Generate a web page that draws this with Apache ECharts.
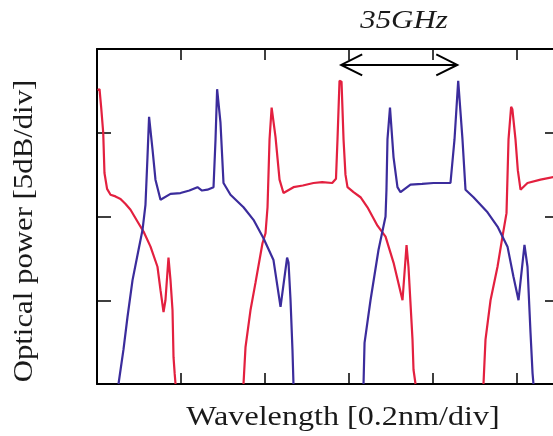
<!DOCTYPE html>
<html><head><meta charset="utf-8">
<script src="https://cdn.jsdelivr.net/npm/echarts@6/dist/echarts.min.js"></script>
<style>html,body{margin:0;padding:0;background:#fff}#c{width:553px;height:436px}</style>
</head><body><div id="c"></div>
<script>
// x in divisions (0.2 nm/div), y in divisions (5 dB/div)
const redSeg1 = [[0.006,3.51],[0.03,3.52],[0.05,3.30],[0.074,3.00],[0.089,2.52],[0.12,2.33],[0.161,2.26],[0.22,2.24],[0.28,2.21],[0.34,2.15],[0.399,2.08],[0.494,1.92],[0.554,1.82],[0.637,1.64],[0.72,1.40],[0.756,1.12],[0.792,0.86],[0.815,1.00],[0.851,1.51],[0.875,1.24],[0.899,0.88],[0.911,0.32],[0.925,0.12],[0.935,0.0]];
const redSeg2 = [[1.744,0.0],[1.768,0.44],[1.827,0.88],[1.887,1.21],[1.97,1.68],[2.006,1.80],[2.03,2.11],[2.054,2.92],[2.079,3.30],[2.095,3.28],[2.125,2.95],[2.173,2.44],[2.22,2.28],[2.339,2.35],[2.45,2.37],[2.577,2.40],[2.68,2.41],[2.80,2.40],[2.845,2.45],[2.863,2.92],[2.887,3.62],[2.911,3.61],[2.935,2.92],[2.958,2.50],[2.982,2.35],[3.054,2.29],[3.137,2.23],[3.22,2.11],[3.339,1.89],[3.435,1.76],[3.53,1.45],[3.637,1.00],[3.685,1.66],[3.708,1.40],[3.756,0.53],[3.768,0.17],[3.792,0.0]];
const redSeg3 = [[4.601,0.0],[4.625,0.53],[4.685,1.00],[4.768,1.40],[4.827,1.76],[4.875,2.04],[4.899,2.92],[4.93,3.31],[4.945,3.28],[4.982,2.92],[5.01,2.55],[5.042,2.32],[5.125,2.40],[5.28,2.44],[5.435,2.47],[5.5,2.48]];
const blueSeg1 = [[0.256,0.0],[0.315,0.41],[0.363,0.80],[0.423,1.24],[0.494,1.60],[0.542,1.84],[0.577,2.14],[0.601,2.71],[0.62,3.19],[0.632,3.17],[0.661,2.80],[0.696,2.44],[0.756,2.20],[0.875,2.27],[0.994,2.28],[1.1,2.31],[1.196,2.35],[1.25,2.31],[1.315,2.32],[1.387,2.35],[1.411,2.92],[1.43,3.52],[1.445,3.50],[1.47,3.12],[1.506,2.40],[1.589,2.26],[1.744,2.11],[1.863,1.96],[1.982,1.74],[2.101,1.48],[2.185,0.92],[2.263,1.51],[2.28,1.45],[2.304,1.00],[2.327,0.41],[2.339,0.0]];
const blueSeg2 = [[3.173,0.0],[3.185,0.49],[3.256,1.00],[3.351,1.60],[3.435,2.00],[3.446,2.32],[3.458,2.92],[3.488,3.30],[3.50,3.28],[3.53,2.71],[3.577,2.35],[3.613,2.29],[3.732,2.38],[3.87,2.39],[4.006,2.40],[4.208,2.40],[4.256,2.92],[4.30,3.62],[4.32,3.61],[4.351,2.92],[4.387,2.32],[4.482,2.23],[4.649,2.05],[4.768,1.88],[4.887,1.64],[4.958,1.28],[5.018,1.00],[5.089,1.66],[5.125,1.40],[5.161,0.61],[5.185,0.13],[5.196,0.0]];
const arrowSpan = [2.907, 4.289];
const arrowLevel = 3.81;
const titleText = '35GHz';
const xLabelText = 'Wavelength [0.2nm/div]';
const yLabelText = 'Optical power [5dB/div]';

const RED = '#e3203f', BLUE = '#3b2c9c';
const chart = echarts.init(document.getElementById('c'), null, {renderer:'canvas'});
const lineSeries = (data, color) => ({type:'line', data, showSymbol:false, symbol:'none', clip:true,
  lineStyle:{color, width:2.2}, itemStyle:{color}, z:3, silent:true});
const xAx = (pos) => ({type:'value', min:0, max:5.5, interval:1, position:pos,
  axisLine:{onZero:false, lineStyle:{color:'#000', width:2}},
  axisTick:{inside:true, length:11, lineStyle:{color:'#000', width:1.5}},
  axisLabel:{show:false}, splitLine:{show:false}});
const yAx = (pos) => ({type:'value', min:0, max:4, interval:1, position:pos,
  axisLine:{onZero:false, lineStyle:{color:'#000', width:2}},
  axisTick:{inside:true, length:14, lineStyle:{color:'#000', width:1.5}},
  axisLabel:{show:false}, splitLine:{show:false}});
const txt = (text, x, y, size, italic, sx, rot) => ({type:'text', x, y, scaleX:sx, rotation:rot||0,
  style:{text, fontFamily:'Liberation Serif', fontSize:size, fontStyle:italic?'italic':'normal',
    fill:'#1a1a1a', align:'center', verticalAlign:'middle'}});

chart.setOption({
  animation:false,
  backgroundColor:'#fff',
  grid:{left:97, width:462, top:49, height:335, containLabel:false, outerBoundsMode:'none'},
  xAxis:[xAx('bottom'), xAx('top')],
  yAxis:[yAx('left'), yAx('right')],
  series:[
    lineSeries(redSeg1, RED), lineSeries(redSeg2, RED), lineSeries(redSeg3, RED),
    lineSeries(blueSeg1, BLUE), lineSeries(blueSeg2, BLUE),
    {type:'custom', coordinateSystem:'cartesian2d', silent:true, z:5,
     data:[[arrowSpan[0], arrowLevel, arrowSpan[1]]],
     encode:{x:[0,2], y:1},
     renderItem:(params, api) => {
       const p1 = api.coord([api.value(0), api.value(1)]);
       const p2 = api.coord([api.value(2), api.value(1)]);
       const L = 21, H = 10.5;
       const st = {stroke:'#000', lineWidth:2, fill:null};
       return {type:'group', children:[
         {type:'line', shape:{x1:p1[0], y1:p1[1], x2:p2[0], y2:p2[1]}, style:st},
         {type:'polyline', shape:{points:[[p1[0]+L,p1[1]-H],[p1[0],p1[1]],[p1[0]+L,p1[1]+H]]}, style:st},
         {type:'polyline', shape:{points:[[p2[0]-L,p2[1]-H],[p2[0],p2[1]],[p2[0]-L,p2[1]+H]]}, style:st}
       ]};
     }}
  ],
  graphic:[
    txt(titleText, 404, 21, 26, true, 1.19),
    txt(xLabelText, 343, 418, 27, false, 1.19),
    txt(yLabelText, 25, 231, 27, false, 1.14, Math.PI/2)
  ]
});
</script></body></html>
